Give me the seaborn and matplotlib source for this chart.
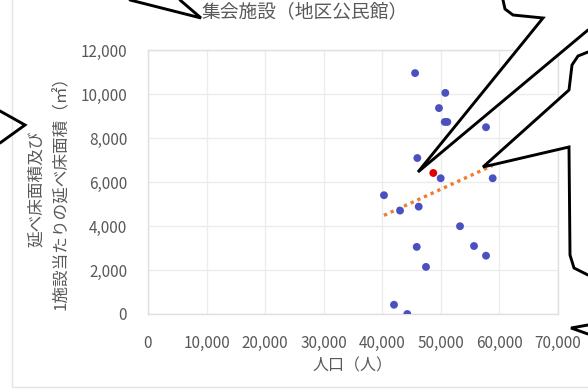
import numpy as np
import pandas as pd
import matplotlib
matplotlib.use("Agg")
import matplotlib.pyplot as plt
import seaborn as sns
from matplotlib.lines import Line2D
from matplotlib.patches import Polygon, Rectangle

# 人口（人）と延べ床面積（㎡）: 各自治体
population = [45600, 50760, 49680, 50660, 51100, 57710, 45980, 49970, 58850, 40290,
              43030, 46220, 53270, 45880, 55660, 57710, 47460, 42000, 44270]
floor_area = [10950, 10050, 9360, 8730, 8730, 8490, 7090, 6170, 6170, 5400,
              4700, 4880, 3990, 3050, 3090, 2650, 2140, 420, 0]

# 対象市（赤）
target_population = [48710]
target_area = [6410]

x_ticks = [0, 10000, 20000, 30000, 40000, 50000, 60000, 70000]
y_ticks = [0, 2000, 4000, 6000, 8000, 10000, 12000]

title = "集会施設（地区公民館）"
x_label = "人口（人）"
y_label = "延べ床面積及び\n1施設当たりの延べ床面積（㎡）"

df = pd.DataFrame({"population": population, "area": floor_area})
df_target = pd.DataFrame({"population": target_population, "area": target_area})

sns.set_theme(style="white")
plt.rcParams["font.family"] = ["Noto Sans CJK JP", "DejaVu Sans"]

W, H = 588, 390
fig = plt.figure(figsize=(W / 100, H / 100), dpi=100)
fig.patch.set_facecolor("white")
ax = fig.add_axes([148 / W, 1 - 314 / H, 410 / W, 264 / H])

gray = "#595959"

# 近似直線（最小二乗）
sns.regplot(data=df, x="population", y="area", ax=ax, scatter=False, ci=None,
            line_kws=dict(color="#ED7D31", linestyle=(0, (1, 1.2)), linewidth=2.4))
sns.scatterplot(data=df, x="population", y="area", ax=ax, color="#4A50C0",
                s=32, edgecolor="none", zorder=3)
sns.scatterplot(data=df_target, x="population", y="area", ax=ax, color="#E00000",
                s=32, edgecolor="none", zorder=4)

ax.set_xlim(0, 70000)
ax.set_ylim(0, 12000)
ax.set_xticks(x_ticks)
ax.set_yticks(y_ticks)
ax.set_xticklabels([f"{v:,}" for v in x_ticks])
ax.set_yticklabels([f"{v:,}" for v in y_ticks])
ax.tick_params(axis="both", length=0, labelsize=11, labelcolor=gray)
ax.tick_params(axis="x", pad=15)
ax.tick_params(axis="y", pad=15)
ax.grid(True, color="#ececec", linewidth=1)
for s in ax.spines.values():
    s.set_color("#e0e0e0")
    s.set_linewidth(1)

ax.set_title(title, fontsize=13.5, color=gray, x=(305 - 148) / 410,
             y=(314 - 20) / 264, va="center")
ax.set_xlabel(x_label, fontsize=11.5, color=gray)
ax.xaxis.set_label_coords((352 - 148) / 410, (314 - 366) / 264)
ax.xaxis.label.set_va("center")
ax.set_ylabel(y_label, fontsize=12, color=gray, linespacing=1.65)
ax.yaxis.set_label_coords((49 - 148) / 410, (314 - 189) / 264)
ax.yaxis.label.set_va("center")


def px(pts):
    return [(x / W, 1 - y / H) for x, y in pts]


# グラフエリアの枠
fig.add_artist(Rectangle((12 / W, 1 - 387 / H), 1, 1, transform=fig.transFigure,
                         fill=False, edgecolor="#e4e4e4", linewidth=1))

# 吹き出し
callout_fills = [
    [(543, 18), (418, 172), (588, 30), (588, 0), (503, 0)],
    [(569, 90), (483, 167), (569, 147), (588, 147), (588, 90)],
]
for poly in callout_fills:
    fig.add_artist(Polygon(px(poly), closed=True, transform=fig.transFigure,
                           facecolor="white", edgecolor="none", zorder=5))

callout_lines = [
    [(130, 0), (201, 18), (180, 0)],
    [(0, 111), (25, 125), (0, 143)],
    [(503, 0), (505, 9), (513, 15), (543, 18), (418, 172), (588, 30)],
    [(588, 52), (578, 56), (572, 65), (569, 90), (483, 167), (569, 147),
     (570, 255), (574, 268), (588, 275)],
    [(588, 325), (571, 328), (588, 334)],
]
for line in callout_lines:
    xs, ys = zip(*px(line))
    fig.add_artist(Line2D(xs, ys, transform=fig.transFigure, color="black",
                          linewidth=2.1, solid_joinstyle="miter", zorder=6))

fig.savefig("out.png", dpi=100, facecolor="white")
